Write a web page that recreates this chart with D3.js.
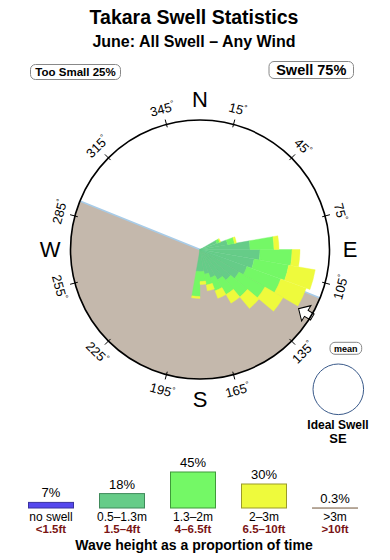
<!DOCTYPE html>
<html>
<head>
<meta charset="utf-8">
<script src="https://cdn.jsdelivr.net/npm/d3@7"></script>
<style>
  body { margin: 0; background: #fff; }
  svg { display: block; font-family: "Liberation Sans", Arial, Helvetica, sans-serif; }
</style>
</head>
<body>
<svg id="chart" width="390" height="560"></svg>
<script>
// Direction bins (centre bearing in degrees) and % of time per height class
const directions = [65, 75, 85, 95, 105, 115, 125, 135, 145, 155, 165, 175, 185]
const small  = [1.8, 2.8, 5.0, 6.0, 5.5, 5.0, 4.5, 4.0, 3.5, 3.0, 2.5, 2.2, 2.2] // 0.5-1.3m
const medium = [0.3, 0.7, 2.4, 3.2, 3.5, 3.6, 3.0, 2.2, 1.7, 1.4, 1.1, 1.0, 2.5] // 1.3-2m
const large  = [0.1, 0.2, 0.5, 0.8, 2.7, 2.7, 2.1, 1.5, 1.0, 0.8, 0.6, 0.3, 0.2] // 2-3m

const landFrom = 112
const landTo = 292
const meanDirection = 121
const degreeTicks = [15, 45, 75, 105, 135, 165, 195, 225, 255, 285, 315, 345]
const compassLabels = ["N", "E", "S", "W"]
const compassBearings = [0, 90, 180, 270]

// Legend
const heightClasses = ["no swell", "0.5–1.3m", "1.3–2m", "2–3m", ">3m"]
const heightFeet = ["<1.5ft", "1.5–4ft", "4–6.5ft", "6.5–10ft", ">10ft"]
const heightShares = [7, 18, 45, 30, 0.3]

const fills = ["#5548ee", "#66cc88", "#74f866", "#eefa3c", "#c8b8a8"]
const strokes = ["#3a32a0", "#3f8a5a", "#3f9a3a", "#9a9a2a", "#a89888"]

const svg = d3.select("#chart")
const rad = deg => deg * Math.PI / 180

// Titles
svg.append("text")
  .attr("x", 194).attr("y", 24)
  .attr("text-anchor", "middle")
  .attr("font-size", 19.5).attr("font-weight", "bold")
  .text("Takara Swell Statistics")

svg.append("text")
  .attr("x", 194).attr("y", 47.3)
  .attr("text-anchor", "middle")
  .attr("font-size", 16).attr("font-weight", "bold")
  .text("June: All Swell – Any Wind")

// Rounded label boxes
function labelBox(x, y, w, h, size, text) {
  svg.append("rect")
    .attr("x", x).attr("y", y).attr("width", w).attr("height", h)
    .attr("rx", 5)
    .attr("fill", "#fff").attr("stroke", "#888").attr("stroke-width", 1)
  svg.append("text")
    .attr("x", x + w / 2).attr("y", y + h / 2)
    .attr("dy", "0.36em")
    .attr("text-anchor", "middle")
    .attr("font-size", size).attr("font-weight", "bold")
    .text(text)
}
labelBox(30.5, 64.5, 90, 15, 11.5, "Too Small 25%")
labelBox(269, 61.5, 84.5, 17, 14.5, "Swell 75%")

// Rose
const cx = 200, cy = 249.5, R = 129.5
const g = svg.append("g").attr("transform", `translate(${cx},${cy})`)

const r = d3.scaleLinear().domain([0, 13]).range([0, 130])

// land
g.append("path")
  .attr("d", d3.arc()({ innerRadius: 0, outerRadius: R, startAngle: rad(landFrom), endAngle: rad(landTo) }))
  .attr("fill", "#c4b8ac")

const polar = (deg, radius) => [radius * Math.sin(rad(deg)), -radius * Math.cos(rad(deg))]

g.append("path")
  .attr("d", d3.line()([polar(landTo, R), [0, 0], polar(landFrom, R)]))
  .attr("fill", "none")
  .attr("stroke", "#a8cce8").attr("stroke-width", 1.5)

// petals
const rows = directions.map((d, i) => ({ dir: d, small: small[i], medium: medium[i], large: large[i] }))
const stacked = d3.stack().keys(["small", "medium", "large"])(rows)
const petalArc = d3.arc()

stacked.forEach((layer, k) => {
  g.append("g")
    .selectAll("path")
    .data(layer)
    .join("path")
    .attr("d", d => petalArc({
      innerRadius: r(d[0]),
      outerRadius: r(d[1]),
      startAngle: rad(d.data.dir - 5),
      endAngle: rad(d.data.dir + 5)
    }))
    .attr("fill", fills[k + 1])
    .attr("stroke", fills[k + 1])
    .attr("stroke-width", 0.4)
})

// mean direction arrow
const arrowPts = [[0, 115], [9, 124], [3.5, 124], [3.5, 131], [-3.5, 131], [-3.5, 124], [-9, 124]]
g.append("path")
  .attr("d", d3.line()(arrowPts.map(([w, rr]) => [w, -rr])) + "Z")
  .attr("transform", `rotate(${meanDirection})`)
  .attr("fill", "#fff").attr("stroke", "#000").attr("stroke-width", 1)

// outer circle
g.append("circle")
  .attr("r", R)
  .attr("fill", "none")
  .attr("stroke", "#000").attr("stroke-width", 1.6)

// ticks
g.append("g")
  .selectAll("line")
  .data(degreeTicks)
  .join("line")
  .attr("x1", d => polar(d, R - 3)[0]).attr("y1", d => polar(d, R - 3)[1])
  .attr("x2", d => polar(d, R + 5)[0]).attr("y2", d => polar(d, R + 5)[1])
  .attr("stroke", "#000").attr("stroke-width", 1)

// degree labels
const degLabels = g.append("g")
  .selectAll("text")
  .data(degreeTicks)
  .join("text")
  .attr("text-anchor", "middle")
  .attr("font-size", 13)
  .attr("transform", d => {
    const [x, y] = polar(d, 145.5)
    const rot = (d > 90 && d < 270) ? d - 180 : d
    return `translate(${x},${y}) rotate(${rot})`
  })
  .attr("dy", "0.36em")
degLabels.append("tspan").text(d => d)
degLabels.append("tspan").attr("font-size", 8).attr("dy", -5).text("°")

// compass letters
g.append("g")
  .selectAll("text")
  .data(compassLabels)
  .join("text")
  .attr("x", (d, i) => polar(compassBearings[i], 150)[0])
  .attr("y", (d, i) => polar(compassBearings[i], 150)[1])
  .attr("dy", "0.36em")
  .attr("text-anchor", "middle")
  .attr("font-size", 22)
  .text(d => d)

// Ideal swell panel
svg.append("rect")
  .attr("x", 330).attr("y", 342.3).attr("width", 31.7).attr("height", 12)
  .attr("rx", 5)
  .attr("fill", "#fff").attr("stroke", "#888")
svg.append("text")
  .attr("x", 345.8).attr("y", 348.3).attr("dy", "0.36em")
  .attr("text-anchor", "middle")
  .attr("font-size", 9).attr("font-weight", "bold")
  .text("mean")
svg.append("circle")
  .attr("cx", 338.3).attr("cy", 389.3).attr("r", 25.3)
  .attr("fill", "#fff").attr("stroke", "#3a5a8a").attr("stroke-width", 1)
svg.append("text")
  .attr("x", 338).attr("y", 429.3)
  .attr("text-anchor", "middle")
  .attr("font-size", 12).attr("font-weight", "bold")
  .text("Ideal Swell")
svg.append("text")
  .attr("x", 338).attr("y", 443)
  .attr("text-anchor", "middle")
  .attr("font-size", 13).attr("font-weight", "bold")
  .text("SE")

// Legend bars
const lx = d3.scalePoint().domain(heightClasses).range([51, 335])
const lh = d3.scaleLinear().domain([0, 45]).range([0, 36])
const base = 508
const bw = 45

const legend = svg.append("g")
legend.selectAll("rect")
  .data(heightClasses)
  .join("rect")
  .attr("x", d => lx(d) - bw / 2)
  .attr("y", (d, i) => base - lh(heightShares[i]))
  .attr("width", bw)
  .attr("height", (d, i) => Math.max(0.6, lh(heightShares[i])))
  .attr("fill", (d, i) => fills[i])
  .attr("stroke", (d, i) => strokes[i])
  .attr("stroke-width", 1)

legend.selectAll("text.pct")
  .data(heightClasses)
  .join("text")
  .attr("class", "pct")
  .attr("x", d => lx(d))
  .attr("y", (d, i) => base - lh(heightShares[i]) - 5)
  .attr("text-anchor", "middle")
  .attr("font-size", 13)
  .text((d, i) => heightShares[i] + "%")

legend.selectAll("text.cls")
  .data(heightClasses)
  .join("text")
  .attr("class", "cls")
  .attr("x", d => lx(d))
  .attr("y", 521)
  .attr("text-anchor", "middle")
  .attr("font-size", 12)
  .text(d => d)

legend.selectAll("text.ft")
  .data(heightFeet)
  .join("text")
  .attr("class", "ft")
  .attr("x", (d, i) => lx(heightClasses[i]))
  .attr("y", 533)
  .attr("text-anchor", "middle")
  .attr("font-size", 11.5).attr("font-weight", "bold")
  .attr("fill", "#7a1414")
  .text(d => d)

svg.append("text")
  .attr("x", 194).attr("y", 549.5)
  .attr("text-anchor", "middle")
  .attr("font-size", 14).attr("font-weight", "bold")
  .text("Wave height as a proportion of time")
</script>
</body>
</html>
